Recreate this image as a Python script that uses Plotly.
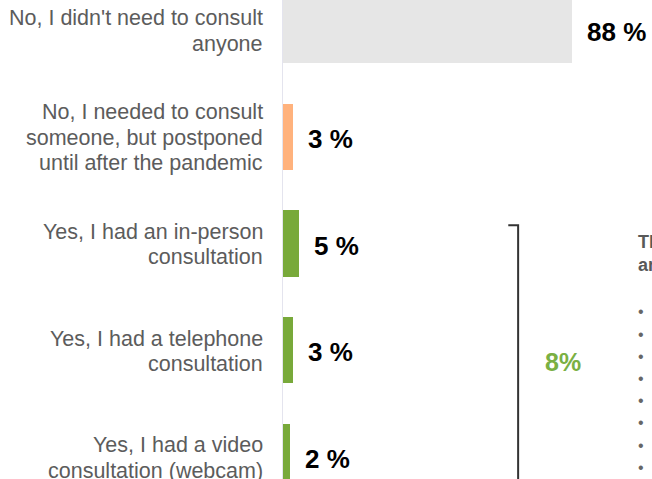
import plotly.graph_objects as go

# ── data ──
categories = [
    "No, I didn't need to consult<br>anyone",
    "No, I needed to consult<br>someone, but postponed<br>until after the pandemic",
    "Yes, I had an in-person<br>consultation",
    "Yes, I had a telephone<br>consultation",
    "Yes, I had a video<br>consultation (webcam)",
]
values = [88, 3, 5, 3, 2]
value_labels = ["88 %", "3 %", "5 %", "3 %", "2 %"]
bar_colors = ["#E6E6E6", "#FFB27D", "#78A93A", "#78A93A", "#78A93A"]
group_total = "8%"
side_title = "The main reasons for the consultation<br>are listed below:"
n_bullets = 8

LABEL_GRAY = "#5C5C5C"
FONT = "Liberation Sans, Arial, sans-serif"
LINE_STEP = 25.5  # px between label lines

ys = list(range(len(categories)))

fig = go.Figure()
fig.add_trace(go.Bar(
    x=values, y=ys, orientation="h",
    marker=dict(color=bar_colors, line_width=0),
    width=0.62, showlegend=False, hoverinfo="skip",
))

# category labels (right aligned left of axis), one annotation per line
for y, cat in zip(ys, categories):
    lines = cat.split("<br>")
    n = len(lines)
    for j, line in enumerate(lines):
        fig.add_annotation(
            x=0, y=y, xref="x", yref="y", text=line, showarrow=False,
            xanchor="right", yanchor="middle", align="right", xshift=-18,
            yshift=((n - 1) / 2 - j) * LINE_STEP - 1,
            font=dict(family=FONT, size=21.5, color=LABEL_GRAY),
        )

# value labels
for y, v, lbl in zip(ys, values, value_labels):
    fig.add_annotation(
        x=v, y=y, xref="x", yref="y", text=f"<b>{lbl}</b>", showarrow=False,
        xanchor="left", yanchor="middle", xshift=13, yshift=-2,
        font=dict(family=FONT, size=26, color="#000000"),
    )

# bracket around the "yes" group
fig.add_shape(
    type="path", xref="x", yref="y",
    path="M 68.6 1.83 L 71.6 1.83 L 71.6 4.6",
    line=dict(color="#333333", width=2),
)
fig.add_annotation(
    x=85.3, y=3.11, xref="x", yref="y", text=f"<b>{group_total}</b>",
    showarrow=False, xanchor="center", yanchor="middle",
    font=dict(family=FONT, size=25, color="#7AB043"),
)

# side text (cut off by the frame)
fig.add_annotation(
    x=107.6, y=1.87, xref="x", yref="y", text=f"<b>{side_title}</b>",
    showarrow=False, xanchor="left", yanchor="top", align="left",
    font=dict(family=FONT, size=18, color="#595959"),
)
for i in range(n_bullets):
    fig.add_annotation(
        x=107.6, y=2.64 + i * 0.208, xref="x", yref="y", text="•",
        showarrow=False, xanchor="left", yanchor="middle",
        font=dict(family=FONT, size=16, color="#666666"),
    )

fig.update_layout(
    width=652, height=479,
    margin=dict(l=283, r=0, t=0, b=0),
    paper_bgcolor="#FFFFFF", plot_bgcolor="#FFFFFF",
    bargap=0,
)
fig.update_xaxes(range=[0, 369 / 3.284], visible=False, fixedrange=True)
fig.update_yaxes(
    range=[4.206, -0.281], showticklabels=False, showgrid=False,
    zeroline=False, showline=True, linecolor="#E4E4EE", linewidth=1,
    fixedrange=True,
)

fig.write_html(
    "out.html",
    config={"displayModeBar": False},
    post_script="document.body.style.margin='0';document.body.style.overflow='hidden';",
)
